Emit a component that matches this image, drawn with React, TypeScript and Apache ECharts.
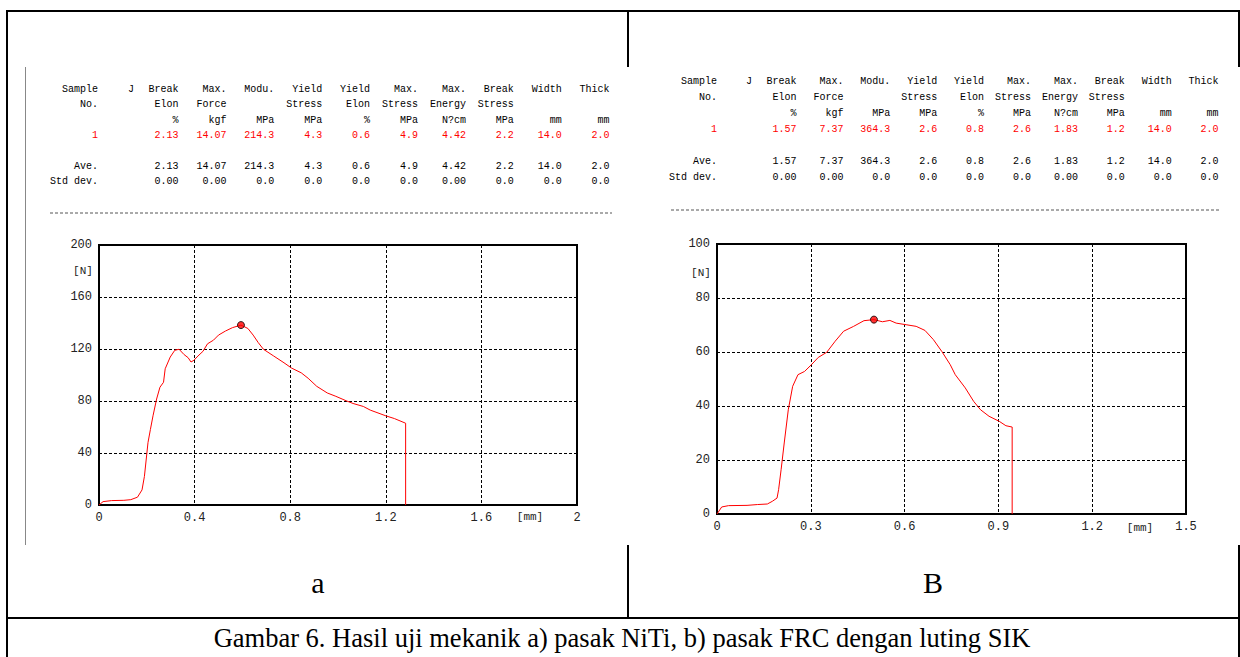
import React, { useEffect, useRef } from "react";
import * as echarts from "echarts";

// ---------- Data ----------
const headRow1 = ["Sample", "J", "Break", "Max.", "Modu.", "Yield", "Yield", "Max.", "Max.", "Break", "Width", "Thick"];
const headRow2 = ["No.", "", "Elon", "Force", "", "Stress", "Elon", "Stress", "Energy", "Stress", "", ""];
const headUnits = ["", "", "%", "kgf", "MPa", "MPa", "%", "MPa", "N?cm", "MPa", "mm", "mm"];

const leftSample = ["1", "", "2.13", "14.07", "214.3", "4.3", "0.6", "4.9", "4.42", "2.2", "14.0", "2.0"];
const leftAve = ["Ave.", "", "2.13", "14.07", "214.3", "4.3", "0.6", "4.9", "4.42", "2.2", "14.0", "2.0"];
const leftStd = ["Std dev.", "", "0.00", "0.00", "0.0", "0.0", "0.0", "0.0", "0.00", "0.0", "0.0", "0.0"];

const rightSample = ["1", "", "1.57", "7.37", "364.3", "2.6", "0.8", "2.6", "1.83", "1.2", "14.0", "2.0"];
const rightAve = ["Ave.", "", "1.57", "7.37", "364.3", "2.6", "0.8", "2.6", "1.83", "1.2", "14.0", "2.0"];
const rightStd = ["Std dev.", "", "0.00", "0.00", "0.0", "0.0", "0.0", "0.0", "0.00", "0.0", "0.0", "0.0"];

// Left curve (a) : displacement [mm], force [N]
const leftX = [0, 0.017, 0.053, 0.104, 0.133, 0.161, 0.18, 0.19, 0.205, 0.215, 0.226, 0.241, 0.255, 0.27, 0.277, 0.298, 0.317, 0.335, 0.356, 0.373, 0.385, 0.397, 0.414, 0.435, 0.454, 0.479, 0.5, 0.529, 0.558, 0.594, 0.623, 0.645, 0.666, 0.688, 0.731, 0.774, 0.806, 0.846, 0.875, 0.911, 0.955, 0.991, 1.034, 1.063, 1.106, 1.135, 1.2, 1.236, 1.283, 1.283];
const leftY = [0, 2.6, 3.4, 3.6, 4.1, 6, 11.6, 22, 48, 58, 68.6, 81.5, 90.6, 94.4, 104.8, 113.8, 119, 119.8, 115.7, 113.3, 110, 111.3, 114.6, 118.2, 124, 126.8, 130.7, 133.8, 136.4, 138.4, 135.8, 130.7, 125, 119.8, 114.6, 109.4, 105.3, 101.7, 97.5, 91.3, 86.2, 83.6, 80.2, 78.1, 75.8, 73, 68.6, 66.5, 62.9, 0];
const leftPeak = [0.594, 138.4];

// Right curve (B)
const rightX = [0, 0.015, 0.037, 0.096, 0.129, 0.161, 0.177, 0.192, 0.197, 0.205, 0.215, 0.228, 0.242, 0.259, 0.28, 0.302, 0.324, 0.351, 0.378, 0.405, 0.437, 0.47, 0.502, 0.529, 0.553, 0.573, 0.605, 0.637, 0.665, 0.692, 0.719, 0.746, 0.762, 0.794, 0.821, 0.843, 0.87, 0.903, 0.924, 0.944, 0.944];
const rightY = [0, 2.6, 3.1, 3.2, 3.5, 3.7, 4.7, 5.9, 9, 16.4, 26.3, 38.6, 47.3, 51.6, 52.8, 55.3, 58, 59.9, 64, 67.7, 69.5, 71.6, 72, 71.2, 71.7, 70.7, 70.1, 69.5, 68, 64.6, 60.2, 55.3, 51.6, 46.7, 41.7, 38.6, 36.2, 34.3, 32.7, 32.2, 0];
const rightPeak = [0.502, 72];

const caption = "Gambar 6. Hasil uji mekanik a) pasak NiTi, b) pasak FRC dengan luting SIK";
const panelLabels = ["a", "B"];

// ---------- helpers ----------
const MONO = "Liberation Mono, DejaVu Sans Mono, monospace";

function txt(x: number, y: number, text: string, font: string, fill = "#000", align = "left", extra: any = {}) {
  return {
    type: "text",
    x,
    y,
    silent: true,
    ...extra,
    style: {
      text,
      font,
      fill,
      align,
      verticalAlign: "middle",
      textAlign: align,
      textVerticalAlign: "middle",
    },
  };
}

function line(x1: number, y1: number, x2: number, y2: number, stroke = "#000", lineWidth = 2, lineDash?: number[]) {
  return {
    type: "line",
    silent: true,
    shape: { x1, y1, x2, y2 },
    style: { stroke, lineWidth, lineDash },
  };
}

function tableElements(cols: number[], rows: number[], sample: string[], ave: string[], std: string[]) {
  const els: any[] = [];
  const font = `10px ${MONO}`;
  const rowsData: [string[], string][] = [
    [headRow1, "#000"],
    [headRow2, "#000"],
    [headUnits, "#000"],
    [sample, "#ff0000"],
    [ave, "#000"],
    [std, "#000"],
  ];
  rowsData.forEach(([r, color], ri) => {
    r.forEach((s, ci) => {
      if (!s) return;
      els.push(txt(cols[ci], rows[ri], s, font, color, "right"));
    });
  });
  return els;
}

function makeCols(sampleRight: number, jRight: number, first: number, step: number) {
  const c = [sampleRight, jRight];
  for (let i = 0; i < 10; i++) c.push(first + step * i);
  return c;
}

function zip(xs: number[], ys: number[]) {
  return xs.map((x, i) => [x, ys[i]]);
}

const App: React.FC = () => {
  const ref = useRef<HTMLDivElement>(null);
  useEffect(() => {
    if (!ref.current) return;
    const chart = echarts.init(ref.current, undefined, { renderer: "svg" });

    const leftCols = makeCols(98, 134, 178.5, 47.9);
    const rightCols = makeCols(717, 752, 796.5, 46.9);
    const leftRows = [89, 104.5, 120, 135, 166.5, 181.5];
    const rightRows = [81, 97, 113, 129, 161, 177];

    const axisLabelStyle = { fontFamily: MONO, fontSize: 12, color: "#222" };
    const fmt = (v: number) => (Number.isInteger(v) ? String(v) : v.toFixed(1));
    const split = { show: true, lineStyle: { color: "#000", width: 1, type: [3, 2] as any } };

    const xAxisBase = {
      type: "value",
      axisLine: { show: false },
      axisTick: { show: false },
      splitLine: split,
      axisLabel: { ...axisLabelStyle, margin: 7, formatter: fmt },
    };
    const yAxisBase = {
      type: "value",
      axisLine: { show: false },
      axisTick: { show: false },
      splitLine: split,
      axisLabel: { ...axisLabelStyle, margin: 7 },
    };

    const graphics: any[] = [
      // frame lines
      line(6, 11, 1240, 11),
      line(7, 11, 7, 657),
      line(628, 11, 628, 67),
      line(628, 545, 628, 618),
      line(1239, 11, 1239, 67),
      line(1239, 545, 1239, 657),
      line(6, 618, 1240, 618),
      // gray image edge
      line(25.5, 67, 25.5, 545, "#888", 1),
      // dashed separators
      line(50, 213, 612, 213, "#555", 1, [3, 2]),
      line(671, 210, 1220, 210, "#555", 1, [3, 2]),
      // axis unit labels
      txt(83, 271, "[N]", `11px ${MONO}`, "#222", "center"),
      txt(530, 517, "[mm]", `11px ${MONO}`, "#222", "center"),
      txt(701, 273, "[N]", `11px ${MONO}`, "#222", "center"),
      txt(1140, 528, "[mm]", `11px ${MONO}`, "#222", "center"),
      // panel labels
      txt(318, 582, panelLabels[0], `30px "Liberation Serif", serif`, "#000", "center"),
      txt(933, 582, panelLabels[1], `30px "Liberation Serif", serif`, "#000", "center"),
      // caption
      txt(622, 638, caption, `26.5px "Liberation Serif", serif`, "#000", "center"),
      ...tableElements(leftCols, leftRows, leftSample, leftAve, leftStd),
      ...tableElements(rightCols, rightRows, rightSample, rightAve, rightStd),
    ];

    chart.setOption({
      animation: false,
      backgroundColor: "#fff",
      grid: [
        { left: 99, top: 245, width: 478, height: 260, show: true, borderColor: "#000", borderWidth: 2, backgroundColor: "transparent" },
        { left: 717, top: 244, width: 469, height: 270, show: true, borderColor: "#000", borderWidth: 2, backgroundColor: "transparent" },
      ],
      xAxis: [
        { ...xAxisBase, gridIndex: 0, min: 0, max: 2, interval: 0.4 },
        { ...xAxisBase, gridIndex: 1, min: 0, max: 1.5, interval: 0.3 },
      ],
      yAxis: [
        { ...yAxisBase, gridIndex: 0, min: 0, max: 200, interval: 40 },
        { ...yAxisBase, gridIndex: 1, min: 0, max: 100, interval: 20 },
      ],
      series: [
        {
          type: "line",
          xAxisIndex: 0,
          yAxisIndex: 0,
          data: zip(leftX, leftY),
          showSymbol: false,
          symbol: "none",
          lineStyle: { color: "#ff0000", width: 1 },
          z: 3,
        },
        {
          type: "scatter",
          xAxisIndex: 0,
          yAxisIndex: 0,
          data: [leftPeak],
          symbolSize: 7,
          itemStyle: { color: "#ff0000", borderColor: "#000", borderWidth: 1 },
          z: 4,
        },
        {
          type: "line",
          xAxisIndex: 1,
          yAxisIndex: 1,
          data: zip(rightX, rightY),
          showSymbol: false,
          symbol: "none",
          lineStyle: { color: "#ff0000", width: 1 },
          z: 3,
        },
        {
          type: "scatter",
          xAxisIndex: 1,
          yAxisIndex: 1,
          data: [rightPeak],
          symbolSize: 7,
          itemStyle: { color: "#ff0000", borderColor: "#000", borderWidth: 1 },
          z: 4,
        },
      ],
      graphic: { elements: graphics },
    });

    return () => chart.dispose();
  }, []);

  return (
    <div
      ref={ref}
      style={{ position: "fixed", left: 0, top: 0, width: 1240, height: 657, background: "#fff" }}
    />
  );
};

export default App;
